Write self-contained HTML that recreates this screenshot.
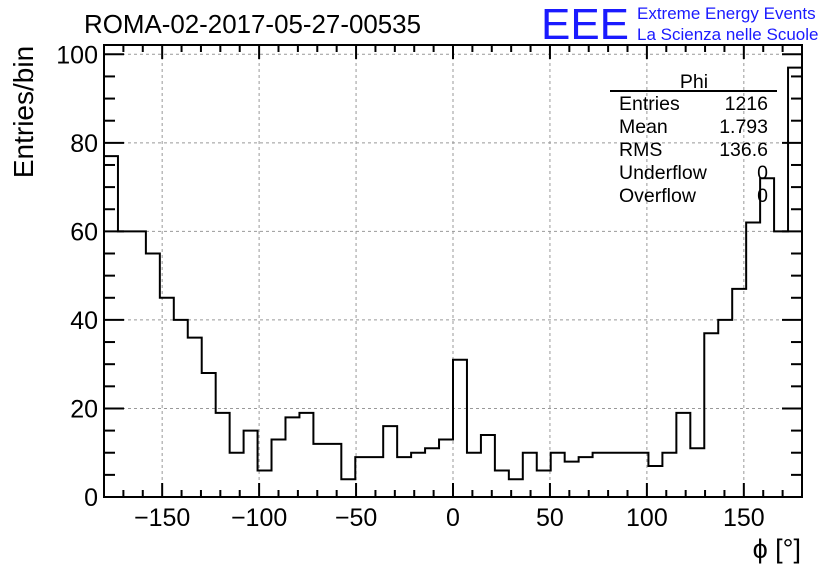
<!DOCTYPE html>
<html><head><meta charset="utf-8"><style>
html,body{margin:0;padding:0;background:#fff;}
svg{display:block;font-family:"Liberation Sans",sans-serif;}
</style></head><body>
<svg id="c" width="836" height="572" viewBox="0 0 836 572">
<text x="84" y="33" font-size="25.5" textLength="337" lengthAdjust="spacingAndGlyphs">ROMA-02-2017-05-27-00535</text>
<text x="541" y="39" font-size="44" fill="#1a1aff" textLength="88" lengthAdjust="spacingAndGlyphs">EEE</text>
<text x="637" y="19" font-size="17" fill="#1a1aff">Extreme Energy Events</text>
<text x="637" y="40" font-size="17" fill="#1a1aff">La Scienza nelle Scuole</text>
<text transform="translate(33,112) rotate(-90)" text-anchor="middle" font-size="28">Entries/bin</text>
<text x="801" y="558" text-anchor="end" font-size="27">ϕ [°]</text>
<g id="grid"></g><g id="hist"></g><g id="axes"></g>
<g font-size="19.5">
<text x="694" y="88" text-anchor="middle">Phi</text>
<line x1="610" y1="91" x2="777" y2="91" stroke="#000" stroke-width="2"/>
<text x="619" y="110">Entries</text><text x="768" y="110" text-anchor="end">1216</text>
<text x="619" y="133">Mean</text><text x="768" y="133" text-anchor="end">1.793</text>
<text x="619" y="156">RMS</text><text x="768" y="156" text-anchor="end">136.6</text>
<text x="619" y="179">Underflow</text><text x="768" y="179" text-anchor="end">0</text>
<text x="619" y="202">Overflow</text><text x="768" y="202" text-anchor="end">0</text>
</g>
</svg>
<script>
const binCounts=[77,60,60,55,45,40,36,28,19,10,15,6,13,18,19,12,12,4,9,9,16,9,10,11,13,
31,10,14,6,4,10,6,10,8,9,10,10,10,10,7,10,19,11,37,40,47,62,72,60,97];
const xRange=[-180,180];
const yRange=[0,102.1];
const xTicks=[-150,-100,-50,0,50,100,150];
const yTicks=[0,20,40,60,80,100];
const L=104,R=802,T=45,B=497;
const NS="http://www.w3.org/2000/svg";
function sx(v){return L+(v-xRange[0])/(xRange[1]-xRange[0])*(R-L);}
function sy(v){return B-(v-yRange[0])/(yRange[1]-yRange[0])*(B-T);}
function mk(tag,attrs,parent){const e=document.createElementNS(NS,tag);for(const k in attrs)e.setAttribute(k,attrs[k]);parent.appendChild(e);return e;}
const grid=document.getElementById('grid'),hist=document.getElementById('hist'),axes=document.getElementById('axes');
xTicks.forEach(t=>{const l=mk('line',{x1:sx(t),x2:sx(t),y1:T,y2:B,stroke:'#999','stroke-dasharray':'3,3','stroke-width':1},grid);

});
yTicks.forEach(t=>{if(t===0)return;const l=mk('line',{x1:L,x2:R,y1:sy(t),y2:sy(t),stroke:'#999','stroke-dasharray':'3,3','stroke-width':1},grid);

});
const w=(xRange[1]-xRange[0])/binCounts.length;
let d='M'+sx(xRange[0])+','+sy(0);
binCounts.forEach((c,i)=>{d+=' L'+sx(xRange[0]+i*w)+','+sy(c)+' L'+sx(xRange[0]+(i+1)*w)+','+sy(c);});
d+=' L'+sx(xRange[1])+','+sy(0);
const p=mk('path',{d:d,fill:'none',stroke:'#000','stroke-width':2},hist);


const fr=mk('rect',{x:L,y:T,width:R-L,height:B-T,fill:'none',stroke:'#000','stroke-width':2},axes);


for(let v=-180;v<=180;v+=10){const major=v%50===0;const len=major?14:7;
mk('line',{x1:sx(v),x2:sx(v),y1:B,y2:B-len,stroke:'#000','stroke-width':2},axes);
mk('line',{x1:sx(v),x2:sx(v),y1:T,y2:T+len,stroke:'#000','stroke-width':2},axes);}
for(let v=0;v<=100;v+=5){const major=v%20===0;const len=major?20:11;
mk('line',{x1:L,x2:L+len,y1:sy(v),y2:sy(v),stroke:'#000','stroke-width':2},axes);
mk('line',{x1:R,x2:R-len,y1:sy(v),y2:sy(v),stroke:'#000','stroke-width':2},axes);}
xTicks.forEach(t=>{const e=mk('text',{x:sx(t),y:B+29,'text-anchor':'middle','font-size':25},axes);e.textContent=(t<0?'\u2212'+(-t):t);

});
yTicks.forEach(t=>{const e=mk('text',{x:L-6,y:sy(t)+9,'text-anchor':'end','font-size':25},axes);e.textContent=t;

});
</script>
</body></html>
